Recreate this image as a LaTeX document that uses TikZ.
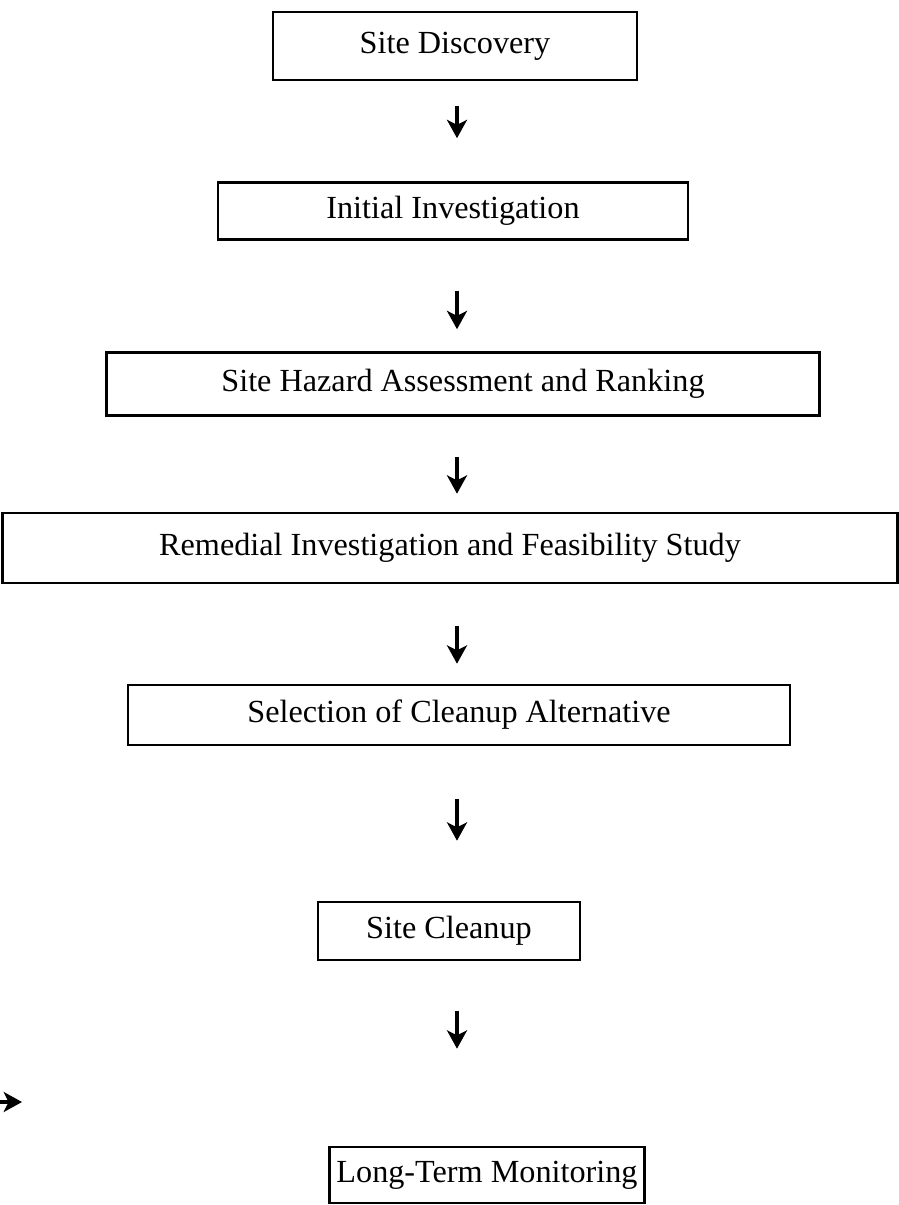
\documentclass[tikz,border=0pt]{standalone}
\usepackage{fontspec}
\setmainfont{Liberation Serif}
\usetikzlibrary{arrows.meta}

\tikzset{
  stage/.style={draw=black, line width=2.2pt, inner sep=0pt, align=center,
    font=\fontsize{27.5}{32}\selectfont},
  flow/.style={-{Stealth[length=0.55cm,width=0.6cm,inset=0.15cm]}, draw=black, line width=3pt}
}

\begin{document}
\begin{tikzpicture}[x=0.03cm,y=-0.03cm]

  \useasboundingbox (0,0) rectangle (899,1205);

  \node[stage, minimum width=10.92cm, minimum height=2.04cm] (SiDi) at (455,46) {Site Discovery};
  \node[stage, minimum width=14.1cm, minimum height=1.71cm] (InIn) at (453,211) {Initial Investigation};
  \node[stage, minimum width=21.39cm, minimum height=1.89cm] (SiHa) at (463,384) {Site Hazard Assessment and Ranking};
  \node[stage, minimum width=26.85cm, minimum height=2.1cm] (ReIn) at (450,548) {Remedial Investigation and Feasibility Study};
  \node[stage, minimum width=19.86cm, minimum height=1.8cm] (SeCl) at (459,715) {Selection of Cleanup Alternative};
  \node[stage, minimum width=7.86cm, minimum height=1.74cm] (SiCl) at (449,931) {Site Cleanup};
  \node[stage, minimum width=9.45cm, minimum height=1.68cm] (LoTe) at (487,1175) {Long-Term Monitoring};

  % arrows between the stages
  \coordinate (ArX) at (457,0);
  \draw[flow, shorten <=0.75cm, shorten >=1.29cm] (SiDi.south -| ArX) to (InIn.north -| ArX);
  \draw[flow, shorten <=1.5cm, shorten >=0.66cm] (InIn.south -| ArX) to (SiHa.north -| ArX);
  \draw[flow, shorten <=1.2cm, shorten >=0.54cm] (SiHa.south -| ArX) to (ReIn.north -| ArX);
  \draw[flow, shorten <=1.26cm, shorten >=0.6cm] (ReIn.south -| ArX) to (SeCl.north -| ArX);
  \draw[flow, shorten <=1.59cm, shorten >=1.8cm] (SeCl.south -| ArX) to (SiCl.north -| ArX);
  \draw[flow, shorten <=1.5cm, shorten >=2.91cm] (SiCl.south -| ArX) to (LoTe.north -| ArX);

  % small arrow at the left edge
  \coordinate (StA) at (0,1102);
  \coordinate (StB) at (22,1102);
  \draw[flow] (StA) to (StB);

\end{tikzpicture}
\end{document}
